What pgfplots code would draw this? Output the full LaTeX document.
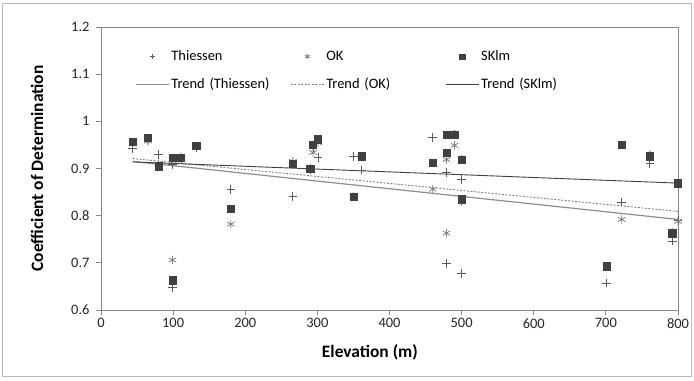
\documentclass[border=0pt]{standalone}
\usepackage{fontspec}
\setmainfont{Carlito}
\usepackage{pgfplots}
\usepackage{pgfplotstable}
\pgfplotsset{compat=1.18}
\definecolor{axgray}{HTML}{868686}
\definecolor{tgray}{HTML}{595959}
\definecolor{okgray}{HTML}{7F7F7F}
\definecolor{skgray}{HTML}{404040}
\definecolor{ttrend}{HTML}{8C8C8C}
\pgfplotstableread{
E    T      OK     S
44   0.942  0.952  0.957
65   0.960  0.958  0.966
80   0.930  0.908  0.905
99   0.909  0.920  0.923
111  0.918  0.925  0.923
99   0.647  0.706  0.663
132  0.945  0.947  0.949
180  0.856  0.782  0.814
266  0.841  0.915  0.911
290  0.897  0.902  0.900
294  0.945  0.934  0.951
301  0.923  0.955  0.962
350  0.925  0.840  0.841
361  0.897  0.925  0.926
460  0.966  0.856  0.913
479  0.892  0.919  0.934
479  0.699  0.763  0.972
490  0.972  0.949  0.972
500  0.877  0.919  0.919
500  0.678  0.830  0.835
701  0.657  0.693  0.693
722  0.829  0.792  0.951
761  0.910  0.930  0.926
792  0.746  0.765  0.763
800  0.790  0.788  0.869
}\datatable
\begin{document}
\begin{tikzpicture}
\begin{axis}[
  at={(101bp,71bp)}, anchor=south west, scale only axis,
  width=577bp, height=283bp,
  xmin=0, xmax=800, ymin=0.6, ymax=1.2,
  xtick={0,100,200,300,400,500,600,700,800},
  ytick={0.6,0.7,0.8,0.9,1,1.1,1.2},
  axis line style={axgray, line width=0.8bp},
  tick style={axgray, line width=0.8bp},
  tick align=outside, major tick length=5bp,
  xtick pos=bottom, ytick pos=left,
  /pgf/number format/assume math mode=true,
  tick label style={font=\fontsize{14.5}{16}\selectfont, text=black!85},
  yticklabel style={/pgf/number format/fixed, /pgf/number format/precision=1, xshift=-3bp},
  label style={font=\bfseries\fontsize{17.5}{20}\selectfont},
  xlabel={Elevation (m)},
  ylabel={Coefficient of Determination},
  xlabel style={at={(axis description cs:0.466,-0.148)}, anchor=center},
  ylabel style={at={(axis description cs:-0.111,0.5)}, anchor=center},
  legend columns=3,
  legend style={at={(0.0589,0.930)}, anchor=north west, draw=none, fill=none,
    inner sep=0pt, row sep=9bp, column sep=0pt,
    font=\fontsize{14.5}{16}\selectfont,
    nodes={text width=117bp, inner sep=2bp, text height=11bp, text depth=4bp, align=left}},
  legend image code/.code={\draw[mark repeat=2,mark phase=2,#1] plot coordinates {(0bp,0bp) (16.5bp,0bp) (33bp,0bp)};},
  legend image post style={mark size=2.6bp},
]
\addplot[only marks, mark=+, mark size=4.3bp, color=tgray, mark options={line width=0.8bp}] table[x=E, y=T] {\datatable};
\addlegendentry{Thiessen}
\addplot[only marks, mark=asterisk, mark size=4.3bp, color=okgray, mark options={line width=0.8bp}] table[x=E, y=OK] {\datatable};
\addlegendentry{OK}
\addplot[only marks, mark=square*, mark size=3.6bp, color=skgray] table[x=E, y=S] {\datatable};
\addlegendentry{SKlm}
\addplot[ttrend, line width=1.2bp] coordinates {(44,0.915) (800,0.792)};
\addlegendentry{Trend (Thiessen)}
\addplot[okgray, line width=0.9bp, dash pattern=on 2bp off 1.5bp] coordinates {(44,0.921) (800,0.809)};
\addlegendentry{Trend (OK)}
\addplot[skgray, line width=0.9bp] coordinates {(44,0.914) (800,0.869)};
\addlegendentry{Trend (SKlm)}
\end{axis}
\draw[gray!55, line width=1bp] (2bp,4bp) rectangle (691bp,377bp);
\pgfresetboundingbox
\path (0,0) rectangle (694bp,381bp);
\end{tikzpicture}
\end{document}
